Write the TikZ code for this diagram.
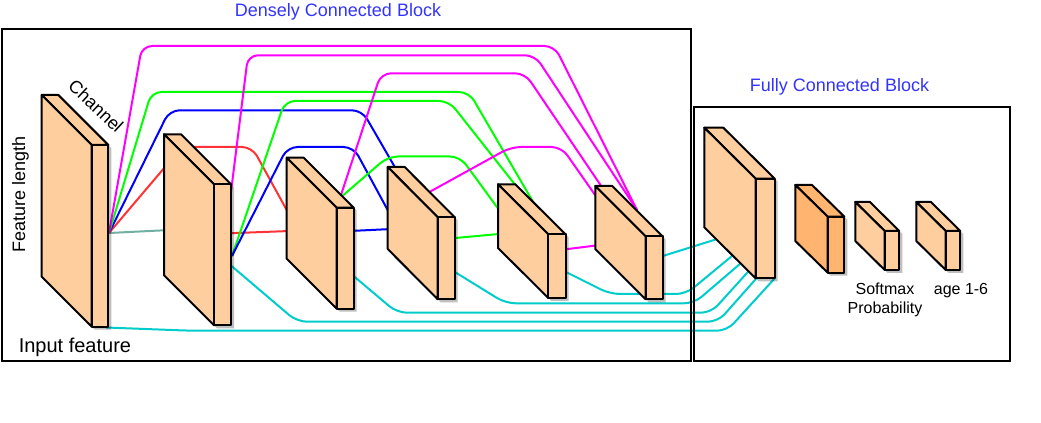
\documentclass[tikz,border=0pt]{standalone}
\usepackage{fontspec}
\setmainfont{Liberation Sans}
\definecolor{face}{HTML}{FFCE9F}
\definecolor{darkface}{HTML}{FFB570}
\definecolor{cyanl}{HTML}{00CCCC}
\definecolor{redl}{HTML}{FF3333}
\definecolor{greenl}{HTML}{00FF00}
\definecolor{bluel}{HTML}{0000FF}
\definecolor{magl}{HTML}{FF00FF}
\definecolor{teall}{HTML}{70B0A0}
\definecolor{titleblue}{HTML}{3333FF}
\newcommand{\cuboid}[8]{%
  % name, fill, x, y, top width, dx, dy, height
  \fill[black,opacity=.25,shift={(3,3)}] (#3,#4) -- ++(#5,0) -- ++(#6,#7) -- ++(0,#8) -- ++(-#5,0) -- ++(-#6,-#7) -- cycle;
  \draw[cubeline,fill=#2] (#3,#4) -- ++(#5,0) -- ++(#6,#7) -- ++(-#5,0) -- cycle;
  \draw[cubeline,fill=#2] (#3,#4) -- ++(#6,#7) -- ++(0,#8) -- ++(-#6,-#7) -- cycle;
  \draw[cubeline,fill=#2] (#3+#6,#4+#7) -- ++(#5,0) -- ++(0,#8) -- ++(-#5,0) -- cycle;
  \path (#3,#4) ++(0.5*#5+0.5*#6,0.5*#7+0.5*#8) node[cubebox,minimum width=#5*0.75pt+#6*0.75pt,minimum height=#7*0.75pt+#8*0.75pt] (#1) {};
}
\begin{document}
\begin{tikzpicture}[x=0.75pt,y=-0.75pt,
  cubeline/.style={line width=1.5pt,line join=round},
  cubebox/.style={rectangle,inner sep=0pt,outer sep=0pt},
  frame/.style={draw=black,line width=1.5pt,rectangle,inner sep=0pt,outer sep=0pt,anchor=north west},
  conn/.style={line width=1.5pt,rounded corners=7.5pt},
  title/.style={text=titleblue,font=\fontsize{13.5}{16}\selectfont,inner sep=0pt},
  big/.style={font=\fontsize{15}{18}\selectfont,inner sep=0pt},
  side/.style={font=\fontsize{13.5}{16}\selectfont,inner sep=0pt},
  small/.style={font=\fontsize{12}{14.3}\selectfont,inner sep=0pt,align=center}]
\useasboundingbox (0,0) rectangle (1041,423);
% ports
\coordinate (o1) at (109,233);
\coordinate (o1b) at (106,327.5);
\coordinate (i2) at (170,230);
\coordinate (o2) at (232,256);
\coordinate (o2r) at (228,233.3);
\coordinate (o2m) at (226,232);
\coordinate (o2c) at (228,263);
\coordinate (i3) at (290,231);
\coordinate (i3r) at (290,216);
\coordinate (o3) at (340,198);
\coordinate (o3b) at (350,231);
\coordinate (o3c) at (350,273);
\coordinate (i4) at (392,229);
\coordinate (i4b) at (392,218);
\coordinate (i4t) at (400,176);
\coordinate (o4) at (424,195);
\coordinate (o4g) at (450,238.5);
\coordinate (o4c) at (450,269);
\coordinate (i5) at (502,233.7);
\coordinate (i5a) at (536,207);
\coordinate (i5b) at (520,191);
\coordinate (i5c) at (502,214);
\coordinate (o5) at (560,250);
\coordinate (o5c) at (560,269);
\coordinate (i6) at (600,245);
\coordinate (i6a) at (637,210);
\coordinate (i6b) at (614,205);
\coordinate (i6c) at (600,202);
\coordinate (o6) at (658,257.5);
\coordinate (fa) at (722,237.5);
\coordinate (fb) at (738,251);
\coordinate (fc) at (748,257);
\coordinate (fd) at (756,263);
\coordinate (fe) at (762,272);
\coordinate (ff) at (775,278);
% connectors
\draw[conn,teall] (o1) -- (i2);
\draw[conn,redl] (o1) -- (182,147) -- (252,147) -- (i3r);
\draw[conn,bluel] (o1) -- (169.5,110.3) -- (362,110.3) -- (i4t);
\draw[conn,greenl] (o1) -- (151.5,92) -- (469,92) -- (i5a);
\draw[conn,magl] (o1) -- (142,46) -- (554.5,46) -- (i6a);
\draw[conn,magl] (o2m) -- (248,55.3) -- (535,55.3) -- (i6a);
\draw[conn,redl] (o2r) -- (i3);
\draw[conn,greenl] (o2) -- (285,101) -- (449,101) -- (i5b);
\draw[conn,bluel] (o2) -- (287.5,147) -- (353.5,147) -- (i4b);
\draw[conn,magl] (o3) -- (381,73.3) -- (525,73.3) -- (i6b);
\draw[conn,greenl] (o3) -- (388,156.5) -- (460,156.5) -- (i5c);
\draw[conn,bluel] (o3b) -- (i4);
\draw[conn,magl] (o4) -- (511,147) -- (561.5,147) -- (i6c);
\draw[conn,greenl] (o4g) -- (i5);
\draw[conn,magl] (o5) -- (i6);
\draw[conn,cyanl] (o6) -- (fa);
\draw[conn,cyanl] (o5c) -- (610,294) -- (686,294) -- (fb);
\draw[conn,cyanl] (o4c) -- (505.6,303.3) -- (694,303.3) -- (fc);
\draw[conn,cyanl] (o3c) -- (397,312.7) -- (711,312.7) -- (fd);
\draw[conn,cyanl] (o2c) -- (297,321.7) -- (718,321.7) -- (fe);
\draw[conn,cyanl] (o1b) -- (190,330.7) -- (727,330.7) -- (ff);
% cuboids
\cuboid{b1}{face}{41.7}{95}{16.7}{50}{50}{181.7}
\cuboid{b2}{face}{164}{134.3}{17}{50}{50}{141}
\cuboid{b3}{face}{286.7}{157.7}{17}{50}{50}{101}
\cuboid{b4}{face}{387.7}{167}{17}{50}{50.3}{82}
\cuboid{b5}{face}{498}{184.3}{17.3}{50.3}{50}{63.7}
\cuboid{b6}{face}{595.3}{186}{17}{50.3}{50.3}{63}
\cuboid{f1}{face}{704.3}{127.7}{19}{51.4}{51}{99.7}
\cuboid{f2}{darkface}{795.3}{185}{16.7}{32.4}{31.7}{56}
\cuboid{f3}{face}{855.3}{202}{14.6}{29.4}{29}{39}
\cuboid{f4}{face}{916.3}{202}{14.6}{29.4}{29}{39}
% frames
\node[frame,minimum width=688.7*0.75pt,minimum height=332*0.75pt] (dense) at (2,28.7) {};
\node[frame,minimum width=316*0.75pt,minimum height=254*0.75pt] (full) at (694,106.7) {};
% labels
\node[title] (t1) at (338,12) {Densely Connected Block};
\node[title] (t2) at (839.5,87) {Fully Connected Block};
\node[big,anchor=west] (input) at (18.5,347) {Input feature};
\node[side,rotate=90] (flen) at (20.5,194.5) {Feature length};
\node[side,rotate=-43] (chan) at (96,106) {Channel};
\node[small] (soft) at (885,299.5) {Softmax\\Probability};
\node[small] (age) at (961,291) {age 1-6};
\end{tikzpicture}
\end{document}
